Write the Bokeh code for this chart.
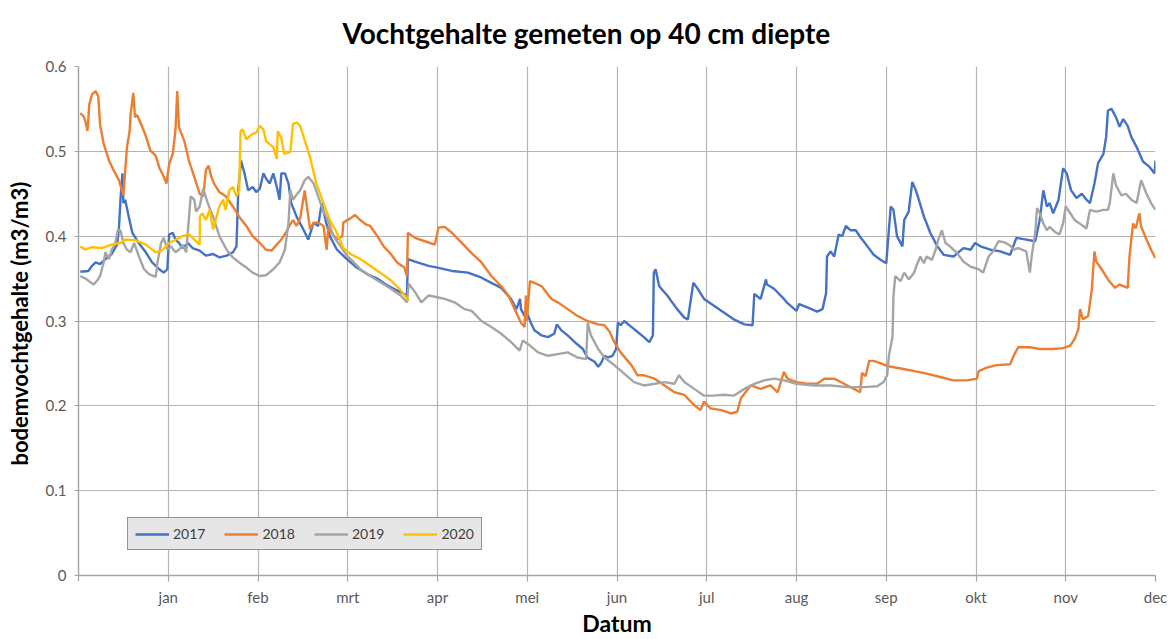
from bokeh.plotting import figure
from bokeh.models import FixedTicker, Range1d, Legend, LegendItem, Title
from bokeh.embed import file_html
from bokeh.resources import INLINE

# x positions are in months from the left edge of the axis (1 = jan, 12 = dec)
month_labels = ["jan", "feb", "mrt", "apr", "mei", "jun", "jul", "aug", "sep", "okt", "nov", "dec"]
y_ticks = [0, 0.1, 0.2, 0.3, 0.4, 0.5, 0.6]
years = ["2017", "2018", "2019", "2020"]
colors = ["#4472C4", "#ED7D31", "#A5A5A5", "#FFC000"]

x_2017 = [0.02, 0.11, 0.15, 0.19, 0.24, 0.30, 0.37, 0.43, 0.45, 0.47,
          0.49, 0.50, 0.52, 0.56, 0.60, 0.67, 0.75, 0.82, 0.90, 0.95,
          0.99, 1.01, 1.05, 1.08, 1.12, 1.16, 1.22, 1.27, 1.35, 1.42,
          1.50, 1.57, 1.65, 1.72, 1.76, 1.78, 1.81, 1.85, 1.89, 1.94,
          1.98, 2.02, 2.06, 2.09, 2.13, 2.17, 2.21, 2.24, 2.26, 2.30,
          2.34, 2.37, 2.43, 2.51, 2.56, 2.62, 2.67, 2.71, 2.75, 2.80,
          2.88, 2.99, 3.10, 3.22, 3.33, 3.44, 3.55, 3.66,
          3.67, 3.75, 3.90, 4.00, 4.16, 4.34, 4.49, 4.60, 4.71, 4.82,
          4.88, 4.92, 4.93, 4.97, 5.00, 5.04, 5.08, 5.16, 5.23, 5.30,
          5.33, 5.38, 5.45, 5.53, 5.62, 5.67, 5.75, 5.79, 5.82, 5.86,
          5.90, 5.95, 5.99, 6.01, 6.04, 6.08, 6.16, 6.23, 6.30, 6.36,
          6.40, 6.41, 6.43, 6.47, 6.56, 6.67, 6.75, 6.79, 6.85, 6.90,
          6.97, 7.08, 7.19, 7.30, 7.42, 7.51, 7.53, 7.60, 7.66, 7.67,
          7.75, 7.86,
          7.90, 8.00, 8.03, 8.12, 8.23, 8.29, 8.33, 8.34, 8.38, 8.42,
          8.47, 8.51, 8.55, 8.60, 8.66, 8.71, 8.79, 8.86, 8.94, 9.00,
          9.05, 9.08, 9.12, 9.18, 9.20, 9.25, 9.29, 9.33, 9.36, 9.42,
          9.49, 9.57, 9.64, 9.75, 9.86, 9.94, 9.99, 10.05, 10.16, 10.27,
          10.38, 10.45, 10.56, 10.66, 10.71, 10.75, 10.79, 10.82, 10.86, 10.92,
          10.97, 11.01, 11.06, 11.12, 11.18, 11.23, 11.27, 11.32, 11.36, 11.42,
          11.45, 11.47, 11.51, 11.56, 11.60, 11.64, 11.69, 11.73, 11.79, 11.86,
          11.93, 11.99, 12.0]
v_2017 = [0.358, 0.359, 0.365, 0.369, 0.367, 0.373, 0.379, 0.390, 0.408, 0.447,
          0.474, 0.439, 0.443, 0.423, 0.404, 0.392, 0.381, 0.369, 0.361, 0.357,
          0.361, 0.402, 0.404, 0.396, 0.392, 0.386, 0.392, 0.386, 0.383, 0.377,
          0.379, 0.375, 0.377, 0.381, 0.388, 0.454, 0.489, 0.474, 0.454, 0.458,
          0.452, 0.456, 0.474, 0.468, 0.462, 0.474, 0.458, 0.443, 0.474, 0.474,
          0.462, 0.439, 0.423, 0.407, 0.396, 0.416, 0.412, 0.439, 0.420, 0.400,
          0.384, 0.373, 0.363, 0.355, 0.350, 0.342, 0.336, 0.330,
          0.373, 0.370, 0.365, 0.363, 0.359, 0.357, 0.351, 0.345, 0.339, 0.326,
          0.314, 0.326, 0.314, 0.306, 0.309, 0.298, 0.289, 0.283, 0.281, 0.285,
          0.296, 0.289, 0.283, 0.275, 0.267, 0.257, 0.252, 0.246, 0.250, 0.259,
          0.257, 0.259, 0.267, 0.298, 0.295, 0.300, 0.293, 0.287, 0.281, 0.275,
          0.283, 0.357, 0.361, 0.341, 0.330, 0.314, 0.304, 0.302, 0.345, 0.338,
          0.326, 0.318, 0.310, 0.302, 0.296, 0.295, 0.332, 0.326, 0.349, 0.343,
          0.338, 0.326,
          0.321, 0.312, 0.320, 0.316, 0.311, 0.314, 0.333, 0.376, 0.382, 0.376,
          0.402, 0.400, 0.412, 0.407, 0.407, 0.399, 0.388, 0.378, 0.372, 0.368,
          0.435, 0.431, 0.400, 0.388, 0.419, 0.429, 0.464, 0.454, 0.444, 0.423,
          0.404, 0.388, 0.378, 0.376, 0.386, 0.384, 0.392, 0.388, 0.384, 0.382,
          0.378, 0.398, 0.396, 0.394, 0.419, 0.454, 0.435, 0.439, 0.427, 0.443,
          0.480, 0.474, 0.454, 0.445, 0.450, 0.443, 0.439, 0.462, 0.486, 0.497,
          0.517, 0.548, 0.550, 0.540, 0.529, 0.538, 0.530, 0.517, 0.505, 0.488,
          0.482, 0.474, 0.489]

x_2018 = [0.02, 0.06, 0.08, 0.10, 0.12, 0.15, 0.19, 0.22, 0.24, 0.28,
          0.34, 0.39, 0.45, 0.50, 0.54, 0.57, 0.58, 0.61, 0.63, 0.65,
          0.69, 0.75, 0.80, 0.86, 0.90, 0.95, 0.98, 1.01, 1.05, 1.08,
          1.10, 1.12, 1.18, 1.23, 1.29, 1.35, 1.39, 1.42, 1.45, 1.48,
          1.51, 1.57, 1.64, 1.72, 1.79, 1.87, 1.94, 2.02, 2.09, 2.15,
          2.21, 2.26, 2.32, 2.36, 2.39, 2.43, 2.47, 2.52, 2.55, 2.58,
          2.62, 2.67, 2.73, 2.765, 2.785, 2.82, 2.88, 2.94, 2.95, 3.03,
          3.08, 3.14, 3.20, 3.25, 3.33, 3.40, 3.48, 3.55, 3.63, 3.66,
          3.67, 3.75, 3.86, 3.97, 4.01, 4.08, 4.16, 4.27, 4.38, 4.49,
          4.60, 4.71, 4.79, 4.86, 4.93, 4.97, 4.985, 4.995, 5.03, 5.08,
          5.16, 5.27, 5.34, 5.45, 5.56, 5.67, 5.79, 5.86, 5.92, 5.97,
          6.04, 6.16, 6.23, 6.30, 6.42, 6.53, 6.64, 6.75, 6.86, 6.93,
          6.97, 7.04, 7.16, 7.27, 7.34, 7.38, 7.49, 7.60, 7.71, 7.79,
          7.86,
          7.90, 8.00, 8.12, 8.23, 8.31, 8.42, 8.53, 8.64, 8.71, 8.73,
          8.77, 8.81, 8.86, 8.94, 9.01, 9.16, 9.31, 9.45, 9.60, 9.75,
          9.90, 10.01, 10.03, 10.12, 10.23, 10.38, 10.42, 10.47, 10.60, 10.71,
          10.86, 10.97, 11.05, 11.10, 11.14, 11.16, 11.19, 11.25, 11.29, 11.32,
          11.34, 11.40, 11.47, 11.55, 11.60, 11.69, 11.71, 11.75, 11.78, 11.82,
          11.84, 11.90, 11.95, 12.0]
v_2018 = [0.545, 0.541, 0.534, 0.524, 0.555, 0.567, 0.571, 0.565, 0.532, 0.509,
          0.489, 0.478, 0.466, 0.448, 0.505, 0.524, 0.543, 0.569, 0.540, 0.543,
          0.534, 0.518, 0.501, 0.495, 0.481, 0.470, 0.462, 0.485, 0.497, 0.524,
          0.571, 0.528, 0.512, 0.489, 0.470, 0.450, 0.447, 0.478, 0.483, 0.470,
          0.462, 0.452, 0.447, 0.435, 0.423, 0.412, 0.400, 0.392, 0.384, 0.383,
          0.390, 0.396, 0.406, 0.414, 0.419, 0.412, 0.421, 0.454, 0.431, 0.408,
          0.416, 0.416, 0.412, 0.384, 0.412, 0.404, 0.396, 0.400, 0.416, 0.421,
          0.425, 0.419, 0.414, 0.412, 0.400, 0.388, 0.379, 0.369, 0.363, 0.353,
          0.404, 0.398, 0.394, 0.390, 0.410, 0.411, 0.404, 0.392, 0.380, 0.369,
          0.353, 0.341, 0.330, 0.314, 0.298, 0.293, 0.330, 0.300, 0.347, 0.345,
          0.341, 0.326, 0.322, 0.314, 0.306, 0.300, 0.296, 0.295, 0.287, 0.275,
          0.263, 0.248, 0.236, 0.236, 0.232, 0.224, 0.216, 0.213, 0.201, 0.195,
          0.205, 0.197, 0.195, 0.191, 0.193, 0.209, 0.224, 0.220, 0.224, 0.216,
          0.240,
          0.232, 0.228, 0.226, 0.226, 0.232, 0.232, 0.226, 0.220, 0.216, 0.239,
          0.235, 0.253, 0.253, 0.250, 0.247, 0.244, 0.241, 0.238, 0.234, 0.230,
          0.230, 0.232, 0.241, 0.245, 0.248, 0.249, 0.259, 0.269, 0.269, 0.267,
          0.267, 0.268, 0.271, 0.279, 0.290, 0.314, 0.302, 0.306, 0.337, 0.382,
          0.370, 0.361, 0.349, 0.339, 0.343, 0.339, 0.376, 0.415, 0.409, 0.427,
          0.411, 0.396, 0.384, 0.374]

x_2019 = [0.02, 0.08, 0.13, 0.17, 0.21, 0.24, 0.28, 0.30, 0.34, 0.37,
          0.41, 0.44, 0.47, 0.50, 0.54, 0.58, 0.62, 0.67, 0.73, 0.79,
          0.86, 0.88, 0.92, 0.95, 0.99, 1.03, 1.08, 1.12, 1.16, 1.20,
          1.25, 1.29, 1.31, 1.35, 1.39, 1.44, 1.50, 1.57, 1.65, 1.72,
          1.79, 1.87, 1.94, 2.02, 2.09, 2.17, 2.24, 2.30, 2.34, 2.36,
          2.39, 2.43, 2.47, 2.52, 2.56, 2.62, 2.67, 2.73, 2.79, 2.84,
          2.92, 2.99, 3.07, 3.14, 3.25, 3.36, 3.48, 3.59, 3.66, 3.68,
          3.75, 3.82, 3.90, 4.00, 4.08, 4.19, 4.30, 4.38, 4.49, 4.60,
          4.71, 4.82, 4.915, 4.95, 5.03, 5.12, 5.23, 5.34, 5.45, 5.56,
          5.656, 5.674, 5.71, 5.79, 5.86, 5.97, 6.08, 6.19, 6.30, 6.42,
          6.53, 6.64, 6.69, 6.75, 6.86, 6.97, 7.08, 7.19, 7.30, 7.42,
          7.53, 7.64, 7.75, 7.86,
          8.00, 8.20, 8.38, 8.57, 8.75, 8.90, 8.97, 9.01, 9.03, 9.07,
          9.08, 9.10, 9.16, 9.20, 9.25, 9.31, 9.34, 9.38, 9.42, 9.45,
          9.51, 9.55, 9.58, 9.62, 9.66, 9.71, 9.79, 9.86, 9.94, 10.03,
          10.08, 10.14, 10.19, 10.25, 10.31, 10.38, 10.42, 10.47, 10.56, 10.60,
          10.62, 10.66, 10.68, 10.71, 10.75, 10.79, 10.82, 10.88, 10.93, 10.97,
          11.00, 11.05, 11.10, 11.18, 11.23, 11.27, 11.34, 11.42, 11.47, 11.49,
          11.53, 11.56, 11.62, 11.67, 11.73, 11.79, 11.84, 11.90, 11.95, 12.0]
v_2019 = [0.353, 0.350, 0.346, 0.343, 0.348, 0.353, 0.369, 0.381, 0.373, 0.384,
          0.392, 0.408, 0.406, 0.392, 0.384, 0.381, 0.392, 0.377, 0.361, 0.355,
          0.352, 0.369, 0.392, 0.398, 0.384, 0.388, 0.381, 0.384, 0.390, 0.381,
          0.447, 0.443, 0.429, 0.435, 0.456, 0.439, 0.423, 0.400, 0.384, 0.375,
          0.369, 0.363, 0.357, 0.353, 0.354, 0.361, 0.369, 0.384, 0.416, 0.454,
          0.443, 0.449, 0.454, 0.466, 0.470, 0.462, 0.447, 0.429, 0.416, 0.400,
          0.388, 0.377, 0.369, 0.361, 0.353, 0.346, 0.338, 0.330, 0.322, 0.344,
          0.334, 0.322, 0.330, 0.328, 0.326, 0.322, 0.314, 0.312, 0.300, 0.293,
          0.285, 0.275, 0.265, 0.277, 0.271, 0.263, 0.259, 0.261, 0.263, 0.257,
          0.255, 0.298, 0.283, 0.267, 0.257, 0.248, 0.238, 0.228, 0.224, 0.226,
          0.228, 0.226, 0.236, 0.228, 0.220, 0.212, 0.212, 0.213, 0.212, 0.220,
          0.226, 0.230, 0.232, 0.230,
          0.226, 0.224, 0.224, 0.222, 0.222, 0.223, 0.228, 0.236, 0.259, 0.282,
          0.329, 0.353, 0.347, 0.357, 0.349, 0.357, 0.366, 0.376, 0.368, 0.376,
          0.372, 0.384, 0.396, 0.407, 0.392, 0.388, 0.380, 0.370, 0.364, 0.361,
          0.357, 0.376, 0.382, 0.394, 0.393, 0.389, 0.384, 0.386, 0.382, 0.357,
          0.376, 0.404, 0.433, 0.427, 0.415, 0.407, 0.411, 0.405, 0.402, 0.415,
          0.435, 0.427, 0.419, 0.413, 0.409, 0.431, 0.429, 0.431, 0.431, 0.439,
          0.474, 0.460, 0.448, 0.450, 0.443, 0.439, 0.466, 0.450, 0.439, 0.431]

x_2020 = [0.02, 0.075, 0.15, 0.26, 0.37, 0.47, 0.52, 0.64, 0.75, 0.86,
          0.93, 1.01, 1.16, 1.23, 1.31, 1.35, 1.353, 1.38, 1.42, 1.46,
          1.50, 1.53, 1.57, 1.61, 1.64, 1.68, 1.72, 1.76, 1.79, 1.806,
          1.83, 1.87, 1.93, 1.98, 2.02, 2.06, 2.09, 2.17, 2.21, 2.22,
          2.26, 2.29, 2.36, 2.39, 2.43, 2.47, 2.50, 2.58, 2.65, 2.73,
          2.80, 2.88, 2.95, 3.03, 3.14, 3.25, 3.36, 3.48, 3.59, 3.68]
v_2020 = [0.388, 0.384, 0.387, 0.386, 0.390, 0.392, 0.396, 0.395, 0.390, 0.381,
          0.383, 0.392, 0.400, 0.402, 0.394, 0.390, 0.423, 0.427, 0.419, 0.431,
          0.408, 0.420, 0.435, 0.443, 0.431, 0.454, 0.458, 0.447, 0.454, 0.524,
          0.526, 0.514, 0.520, 0.522, 0.530, 0.526, 0.512, 0.505, 0.491, 0.524,
          0.516, 0.497, 0.499, 0.532, 0.534, 0.530, 0.520, 0.493, 0.462, 0.439,
          0.419, 0.404, 0.386, 0.379, 0.373, 0.365, 0.357, 0.348, 0.336, 0.324]

series_x = [x_2017, x_2018, x_2019, x_2020]
series_v = [v_2017, v_2018, v_2019, v_2020]

FONT = "Lato"
TICK_COLOR = "#595959"
GRID = "#B4B4B4"

p = figure(width=1173, height=639, output_backend="svg", toolbar_location=None,
           x_range=Range1d(0, 12), y_range=Range1d(0, 0.6),
           min_border_left=78, min_border_right=18, min_border_top=63, min_border_bottom=63)
p.outline_line_color = None
p.background_fill_color = "white"
p.border_fill_color = "white"

title = Title(text="Vochtgehalte gemeten op 40 cm diepte", align="left", offset=264,
              vertical_align="top", standoff=30,
              text_font=FONT, text_font_size="28px", text_font_style="bold",
              text_color="#000000")
p.add_layout(title, "above")

# x axis
p.xaxis.ticker = FixedTicker(ticks=list(range(13)))
p.xaxis.major_label_overrides = {0: ""} | {i + 1: m for i, m in enumerate(month_labels)}
p.xaxis.axis_label = "Datum"
p.xaxis.axis_label_text_font = FONT
p.xaxis.axis_label_text_font_size = "23px"
p.xaxis.axis_label_text_font_style = "bold"
p.xaxis.axis_label_text_color = "#000000"
p.xaxis.axis_label_text_line_height = 0.9
p.xaxis.axis_label_standoff = 0
p.xaxis.major_tick_out = 6
p.xaxis.major_tick_in = 0
p.xaxis.minor_tick_out = 0
p.xaxis.major_label_standoff = 6

# y axis
p.yaxis.ticker = FixedTicker(ticks=y_ticks)
p.yaxis.major_label_overrides = {0: "0"}
p.yaxis.axis_label = "bodemvochtgehalte  (m3/m3)"
p.yaxis.axis_label_text_font = FONT
p.yaxis.axis_label_text_font_size = "22px"
p.yaxis.axis_label_text_font_style = "bold"
p.yaxis.axis_label_text_color = "#000000"
p.yaxis.axis_label_standoff = 10
p.yaxis.major_tick_out = 4
p.yaxis.major_tick_in = 0
p.yaxis.minor_tick_out = 0
p.yaxis.major_label_standoff = 8

for ax in (p.xaxis, p.yaxis):
    ax.axis_line_color = "#A6A6A6"
    ax.axis_line_width = 1.5
    ax.major_tick_line_color = "#A6A6A6"
    ax.major_tick_line_width = 1.2
    ax.major_label_text_font = FONT
    ax.major_label_text_font_size = "15px"
    ax.major_label_text_color = TICK_COLOR

p.xgrid.grid_line_color = GRID
p.ygrid.grid_line_color = GRID
p.xgrid.grid_line_width = 1.2
p.ygrid.grid_line_width = 1.2

renderers = []
for xs, vs, c in zip(series_x, series_v, colors):
    r = p.line(xs, vs, line_color=c, line_width=2.4)
    renderers.append(r)

legend = Legend(items=[LegendItem(label=y, renderers=[r]) for y, r in zip(years, renderers)],
                location=(49, 25), orientation="horizontal")
legend.border_line_color = "#404040"
legend.border_line_width = 1.5
legend.background_fill_color = "#E6E6E6"
legend.background_fill_alpha = 1.0
legend.padding = 7
legend.margin = 0
legend.spacing = 19
legend.glyph_width = 34
legend.glyph_height = 14
legend.label_height = 14
legend.label_standoff = 4
legend.label_text_font = FONT
legend.label_text_font_size = "14px"
legend.label_text_color = "#404040"
p.add_layout(legend)

open("out.html", "w").write(file_html(p, INLINE))
